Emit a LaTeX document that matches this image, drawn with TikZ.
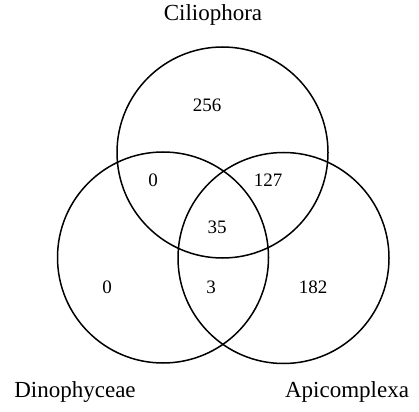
\documentclass[tikz,border=0pt]{standalone}
\usepackage{fontspec}
\setmainfont{Liberation Serif}
\usepackage{tikz}
\usetikzlibrary{positioning}
\tikzset{
  set/.style={draw=black, circle, line width=1.5pt, minimum size=211pt,
              inner sep=0pt},
  setname/.style={font=\fontsize{23}{26}\selectfont, inner sep=0pt},
  count/.style={font=\fontsize{19}{22}\selectfont, inner sep=0pt},
}
\begin{document}
\begin{tikzpicture}[x=1pt, y=-1pt]
\useasboundingbox (0,0) rectangle (419,411);
% the three sets
\node[set] (cil) at (222.5,152.5) {};
\node[set] (din) at (163,257.5) {};
\node[set] (api) at (283.5,258) {};
% set names
\node[setname] (cilname) at (213,15) {Ciliophora};
\node[setname] (dinname) at (75,392) {Dinophyceae};
\node[setname] (apiname) at (347,392) {Apicomplexa};
% counts
\node[count] (c) at (207,105) {256};
\node[count] (cd) at (153,180) {0};
\node[count] (ca) at (268,180) {127};
\node[count] (cda) at (217,227) {35};
\node[count] (d) at (107,287) {0};
\node[count] (da) at (211,287) {3};
\node[count] (a) at (313,287) {182};
\end{tikzpicture}
\end{document}
